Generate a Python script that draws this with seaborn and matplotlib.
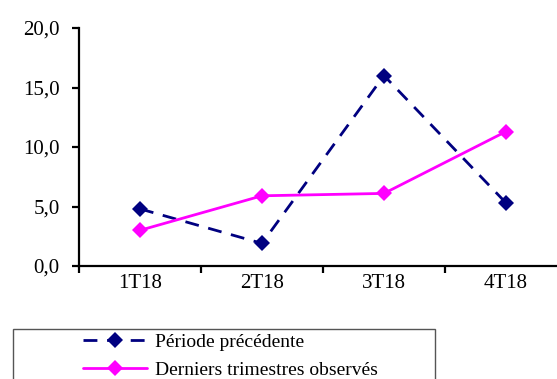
import matplotlib
matplotlib.use("Agg")
import matplotlib.pyplot as plt
import seaborn as sns
import pandas as pd
from matplotlib.ticker import FixedLocator, FuncFormatter
from matplotlib.patches import Rectangle

categories = ["1T18", "2T18", "3T18", "4T18"]
periode_precedente = [4.8, 1.9, 16.0, 5.3]
derniers_trimestres = [3.0, 5.9, 6.1, 11.3]
series_names = ["Période précédente", "Derniers trimestres observés"]
y_ticks = [0, 5, 10, 15, 20]

sns.set_theme(style="white")
plt.rcParams["font.family"] = ["Liberation Serif", "DejaVu Serif"]

rows = []
for name, vals in zip(series_names, [periode_precedente, derniers_trimestres]):
    for i, (c, v) in enumerate(zip(categories, vals)):
        rows.append({"pos": i, "cat": c, "value": v, "serie": name})
df = pd.DataFrame(rows)

fig = plt.figure(figsize=(5.57, 3.79), dpi=100)
ax = fig.add_axes([79/557, 1-266/379, (567-79)/557, (266-28)/379])

palette = {series_names[0]: "#000080", series_names[1]: "#FF00FF"}
dashes = {series_names[0]: (5, 3.5), series_names[1]: ""}
markers = {series_names[0]: "D", series_names[1]: "D"}
sns.lineplot(data=df, x="pos", y="value", hue="serie", style="serie",
             palette=palette, dashes=dashes, markers=markers,
             markersize=8, markeredgewidth=0, linewidth=2, ax=ax,
             hue_order=series_names, style_order=series_names, legend=True)

ax.set_xlim(-0.5, 3.5)
ax.set_ylim(0, 20)
ax.set_xlabel("")
ax.set_ylabel("")
for s in ["top", "right"]:
    ax.spines[s].set_visible(False)
for s in ["left", "bottom"]:
    ax.spines[s].set_color("black")
    ax.spines[s].set_linewidth(1.6)

ax.xaxis.set_major_locator(FixedLocator(range(len(categories))))
ax.set_xticklabels(categories)
ax.xaxis.set_minor_locator(FixedLocator([i - 0.5 for i in range(len(categories) + 1)]))
ax.tick_params(axis="x", which="major", length=0, pad=6, labelsize=15)
ax.tick_params(axis="x", which="minor", length=5, width=1.6, color="black", direction="out", bottom=True)
ax.set_yticks(y_ticks)
ax.yaxis.set_major_formatter(FuncFormatter(lambda v, p: f"{v:.1f}".replace(".", ",")))
ax.tick_params(axis="y", which="major", length=5, width=1.6, color="black", direction="out", left=True, labelsize=15, pad=9)
for lbl in ax.get_xticklabels() + ax.get_yticklabels():
    lbl.set_color("black")

handles, labels = ax.get_legend_handles_labels()
ax.get_legend().remove()

# legend frame box (extends below the figure edge)
fig.patches.append(Rectangle((13/557, -0.05), (435-13)/557, (1-329/379) + 0.05,
                             transform=fig.transFigure, fill=False,
                             edgecolor="#555555", linewidth=1.0))
leg = fig.legend(handles, labels, loc="upper left",
                 bbox_to_anchor=(83/557, 1-333/379), frameon=False,
                 fontsize=14, handlelength=3.3, borderaxespad=0,
                 borderpad=0, labelspacing=0.55, handletextpad=0.4)
for t in leg.get_texts():
    t.set_color("black")

fig.savefig("out.png", dpi=100)
